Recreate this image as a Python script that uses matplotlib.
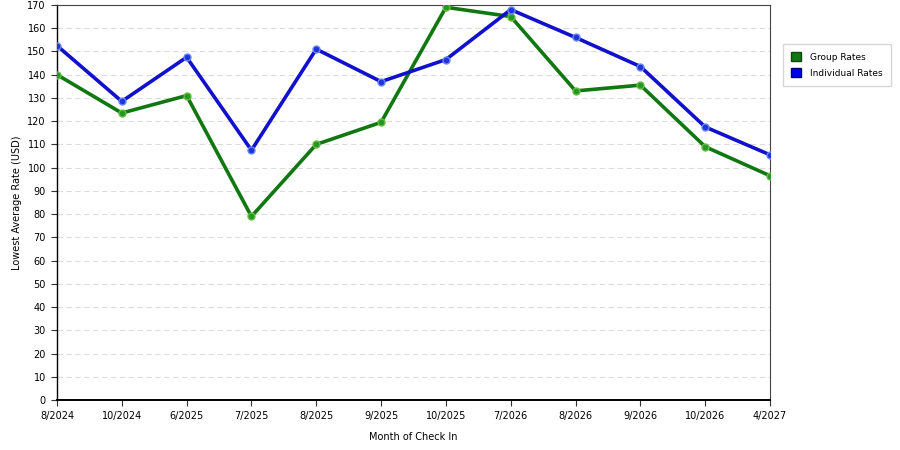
import matplotlib
matplotlib.use("Agg")
import matplotlib.pyplot as plt
from matplotlib.patches import Patch

months = ["8/2024", "10/2024", "6/2025", "7/2025", "8/2025", "9/2025",
          "10/2025", "7/2026", "8/2026", "9/2026", "10/2026", "4/2027"]
group_rates = [140, 123.5, 131, 79, 110, 119.5, 169, 165, 133, 135.5, 109, 96.5]
individual_rates = [152.5, 128.5, 147.5, 107.5, 151, 137, 146.5, 168, 156, 143.5, 117.5, 105.5]
yticks = list(range(0, 171, 10))

fig = plt.figure(figsize=(9, 4.5), dpi=100)
ax = fig.add_axes([0.0633, 0.111, 0.7923, 0.878])

x = list(range(len(months)))
ax.plot(x, group_rates, color="#117711", lw=2.6, marker="o", ms=5,
        mfc="#229922", mec="#66bb44", mew=1, zorder=3)
ax.plot(x, individual_rates, color="#1111cc", lw=2.6, marker="o", ms=5,
        mfc="#2233dd", mec="#6688ee", mew=1, zorder=4)

ax.set_xlim(0, len(months) - 1)
ax.set_ylim(0, 170)
ax.set_xticks(x)
ax.set_xticklabels(months)
ax.set_yticks(yticks)
ax.tick_params(labelsize=7, length=4, color="#333333", pad=4)
ax.grid(axis="y", linestyle=(0, (5, 3)), color="#dddddd", lw=0.8)
ax.set_axisbelow(True)
for side in ["top", "right"]:
    ax.spines[side].set_color("#444444")
    ax.spines[side].set_linewidth(0.8)
ax.spines["left"].set_linewidth(1)
ax.spines["bottom"].set_linewidth(1.4)

ax.set_xlabel("Month of Check In", fontsize=7, labelpad=8)
ax.set_ylabel("Lowest Average Rate (USD)", fontsize=7, labelpad=4)

handles = [Patch(facecolor="#117711", edgecolor="#114411", label="Group Rates"),
           Patch(facecolor="#0000ee", edgecolor="#000066", label="Individual Rates")]
fig.legend(handles=handles, loc="upper left", bbox_to_anchor=(0.865, 0.912),
           fontsize=6.5, frameon=True, fancybox=False, edgecolor="#cccccc",
           handlelength=1.1, handleheight=1.2, borderpad=0.9, labelspacing=0.7,
           handletextpad=1.0)

fig.savefig("out.png", dpi=100)
